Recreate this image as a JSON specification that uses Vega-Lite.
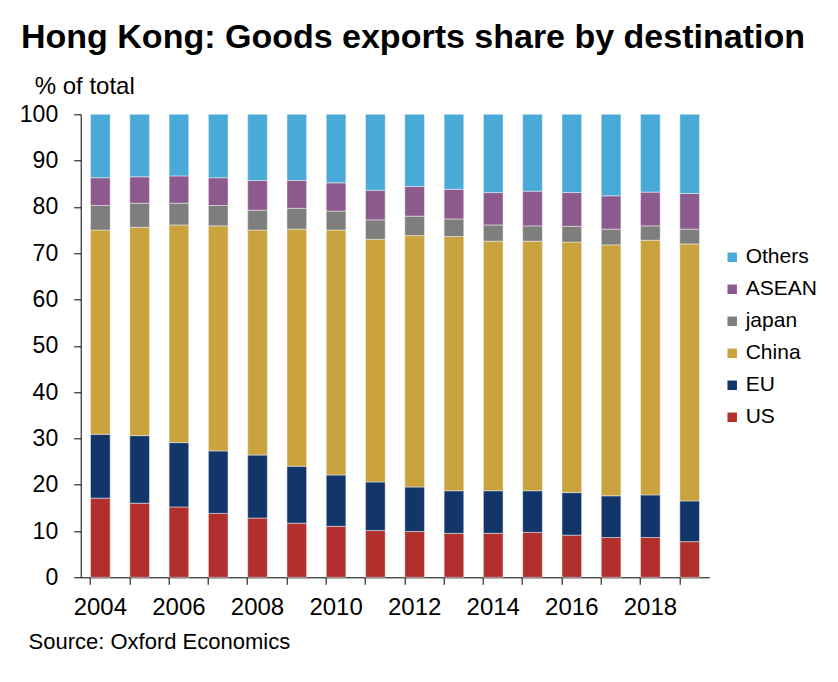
{
  "$schema": "https://vega.github.io/schema/vega-lite/v6.json",
  "width": 628.6,
  "height": 463,
  "autosize": "none",
  "padding": {"left": 80.7, "top": 114.3, "right": 128.7, "bottom": 104.7},
  "background": "white",
  "title": {
    "text": "Hong Kong: Goods exports share by destination",
    "anchor": "start",
    "frame": "group",
    "font": "Liberation Sans",
    "fontSize": 34,
    "fontWeight": "bold",
    "color": "black",
    "baseline": "alphabetic",
    "dx": -59.7,
    "dy": 18,
    "offset": 10
  },
  "data": {
    "values": [
      {"year": 2004, "US": 17.1, "EU": 13.8, "China": 44.1, "japan": 5.3, "ASEAN": 6.0, "Others": 13.7},
      {"year": 2005, "US": 16.0, "EU": 14.6, "China": 45.0, "japan": 5.2, "ASEAN": 5.7, "Others": 13.5},
      {"year": 2006, "US": 15.2, "EU": 13.9, "China": 47.0, "japan": 4.7, "ASEAN": 5.9, "Others": 13.3},
      {"year": 2007, "US": 13.8, "EU": 13.5, "China": 48.6, "japan": 4.4, "ASEAN": 6.0, "Others": 13.7},
      {"year": 2008, "US": 12.8, "EU": 13.6, "China": 48.6, "japan": 4.3, "ASEAN": 6.4, "Others": 14.3},
      {"year": 2009, "US": 11.7, "EU": 12.3, "China": 51.2, "japan": 4.5, "ASEAN": 6.0, "Others": 14.3},
      {"year": 2010, "US": 11.0, "EU": 11.1, "China": 52.9, "japan": 4.1, "ASEAN": 6.1, "Others": 14.8},
      {"year": 2011, "US": 10.1, "EU": 10.5, "China": 52.4, "japan": 4.2, "ASEAN": 6.4, "Others": 16.4},
      {"year": 2012, "US": 9.9, "EU": 9.6, "China": 54.3, "japan": 4.2, "ASEAN": 6.4, "Others": 15.6},
      {"year": 2013, "US": 9.5, "EU": 9.2, "China": 54.9, "japan": 3.8, "ASEAN": 6.4, "Others": 16.2},
      {"year": 2014, "US": 9.5, "EU": 9.2, "China": 53.9, "japan": 3.5, "ASEAN": 7.0, "Others": 16.9},
      {"year": 2015, "US": 9.7, "EU": 9.0, "China": 53.9, "japan": 3.3, "ASEAN": 7.5, "Others": 16.6},
      {"year": 2016, "US": 9.1, "EU": 9.2, "China": 54.1, "japan": 3.4, "ASEAN": 7.3, "Others": 16.9},
      {"year": 2017, "US": 8.6, "EU": 9.0, "China": 54.2, "japan": 3.4, "ASEAN": 7.2, "Others": 17.6},
      {"year": 2018, "US": 8.6, "EU": 9.2, "China": 55.0, "japan": 3.1, "ASEAN": 7.3, "Others": 16.8},
      {"year": 2019, "US": 7.7, "EU": 8.8, "China": 55.5, "japan": 3.2, "ASEAN": 7.7, "Others": 17.1}
    ]
  },
  "transform": [
    {"fold": ["US", "EU", "China", "japan", "ASEAN", "Others"], "as": ["series", "value"]},
    {"calculate": "indexof(['US','EU','China','japan','ASEAN','Others'], datum.series)", "as": "stackRank"}
  ],
  "mark": {"type": "bar", "stroke": "#f2f2f2", "strokeWidth": 0.5},
  "encoding": {
    "x": {
      "field": "year",
      "type": "ordinal",
      "scale": {"paddingInner": 0.5, "paddingOuter": 0.25},
      "axis": {
        "bandPosition": 0,
        "labelAngle": 0,
        "labelExpr": "datum.value % 2 == 0 ? datum.label : ''",
        "labelFont": "Liberation Sans",
        "labelFontSize": 24,
        "labelColor": "black",
        "labelPadding": 11,
        "labelBaseline": "top",
        "tickSize": 7,
        "tickColor": "black",
        "domainColor": "black",
        "title": "Source: Oxford Economics",
        "titleFont": "Liberation Sans",
        "titleFontSize": 22,
        "titleFontWeight": "normal",
        "titleColor": "black",
        "titleAnchor": "start",
        "titleAlign": "left",
        "titleBaseline": "alphabetic",
        "titleX": -52.7,
        "titleY": 70.7
      }
    },
    "y": {
      "field": "value",
      "type": "quantitative",
      "stack": "zero",
      "scale": {"domain": [0, 100], "nice": false},
      "axis": {
        "values": [0, 10, 20, 30, 40, 50, 60, 70, 80, 90, 100],
        "grid": false,
        "labelFont": "Liberation Sans",
        "labelFontSize": 23,
        "labelColor": "black",
        "labelPadding": 16,
        "tickSize": 7,
        "tickColor": "black",
        "domainColor": "black",
        "title": "% of total",
        "titleFont": "Liberation Sans",
        "titleFontSize": 24,
        "titleFontWeight": "normal",
        "titleColor": "black",
        "titleAngle": 0,
        "titleAlign": "left",
        "titleBaseline": "alphabetic",
        "titleX": -46.5,
        "titleY": -21
      }
    },
    "color": {
      "field": "series",
      "type": "nominal",
      "scale": {
        "domain": ["Others", "ASEAN", "japan", "China", "EU", "US"],
        "range": ["#4AAAD7", "#8D5A8E", "#7E7E7C", "#CAA33F", "#13366A", "#B1302D"]
      },
      "legend": {
        "orient": "none",
        "legendX": 641,
        "legendY": 132.5,
        "title": null,
        "padding": 0,
        "symbolType": "square",
        "symbolSize": 90,
        "symbolStrokeWidth": 0,
        "labelFont": "Liberation Sans",
        "labelFontSize": 21,
        "labelColor": "black",
        "labelOffset": 3,
        "rowPadding": 10
      }
    },
    "order": {"field": "stackRank", "type": "quantitative", "sort": "ascending"}
  },
  "config": {"view": {"stroke": null}}
}
